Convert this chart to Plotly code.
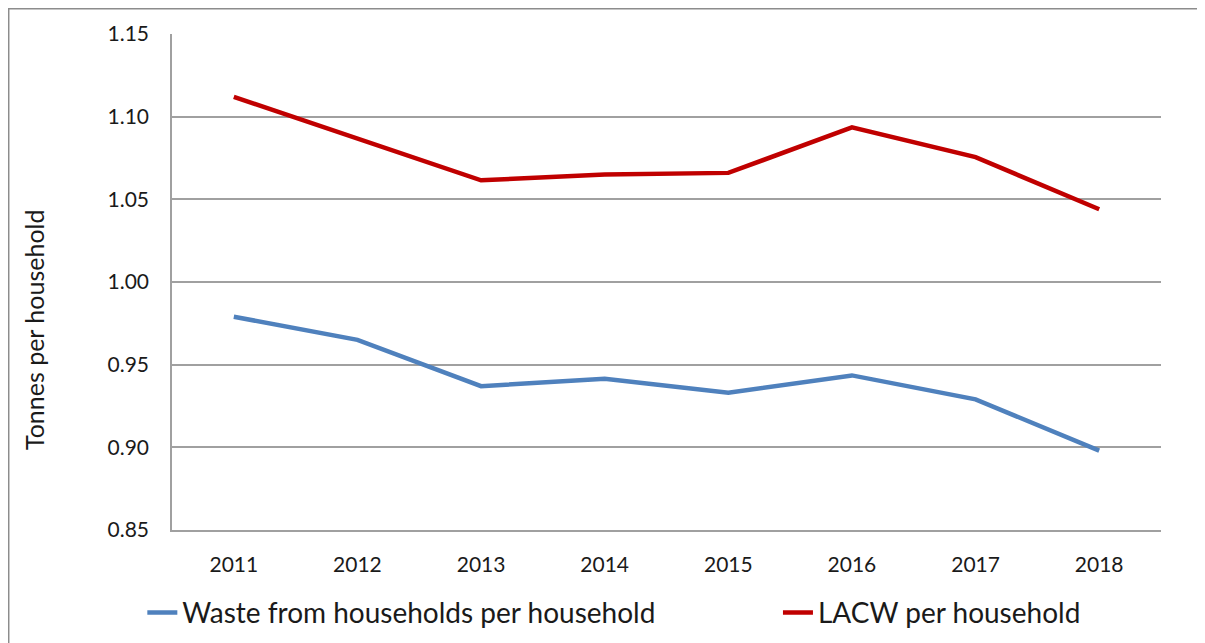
import plotly.graph_objects as go

years = ["2011", "2012", "2013", "2014", "2015", "2016", "2017", "2018"]
waste_households = [0.979, 0.965, 0.937, 0.9415, 0.933, 0.9435, 0.929, 0.898]
lacw = [1.112, 1.087, 1.0615, 1.065, 1.066, 1.0935, 1.0755, 1.044]
y_ticks = [0.85, 0.90, 0.95, 1.00, 1.05, 1.10, 1.15]

FONT = "Lato, 'Liberation Sans Narrow', 'DejaVu Sans Condensed', sans-serif"

fig = go.Figure()
fig.add_trace(go.Scatter(
    x=years, y=waste_households, mode="lines",
    name="Waste from households per household",
    line=dict(color="#4F81BD", width=4.5),
    legend="legend",
))
fig.add_trace(go.Scatter(
    x=years, y=lacw, mode="lines",
    name="LACW per household",
    line=dict(color="#C00000", width=4.5),
    legend="legend2",
))

legend_common = dict(
    orientation="h", xanchor="left", y=-0.167, yanchor="middle",
    font=dict(size=28, family=FONT, color="#1a1a1a"),
    itemwidth=30, bgcolor="rgba(0,0,0,0)",
)

fig.update_layout(
    width=1197, height=635,
    margin=dict(l=164, r=44, t=26, b=113, autoexpand=False),
    paper_bgcolor="white", plot_bgcolor="white",
    font=dict(family=FONT, color="#1a1a1a"),
    showlegend=True,
    legend=dict(x=-0.03, **legend_common),
    legend2=dict(x=0.6127, **legend_common),
    xaxis=dict(
        type="category", range=[-0.5, 7.5],
        showgrid=False, showline=True, linecolor="#a0a0a0", linewidth=1.5,
        ticks="", tickfont=dict(size=21, family=FONT, color="#1a1a1a"),
        ticklabelstandoff=15, fixedrange=True, automargin=False,
    ),
    yaxis=dict(
        range=[0.85, 1.15], tickvals=y_ticks, tickformat=".2f",
        showgrid=True, gridcolor="#a0a0a0", gridwidth=1.5,
        showline=True, linecolor="#a0a0a0", linewidth=1.5,
        zeroline=False, ticks="", ticklabelstandoff=17,
        tickfont=dict(size=21, family=FONT, color="#1a1a1a"),
        fixedrange=True, automargin=False,
    ),
    annotations=[dict(
        text="Tonnes per household", textangle=-90,
        xref="paper", yref="paper", x=-0.1396, y=0.405,
        xanchor="center", yanchor="middle", showarrow=False,
        font=dict(size=25, family=FONT, color="#1a1a1a"),
    )],
    shapes=[dict(
        type="rect", xref="paper", yref="paper",
        x0=-0.1651, x1=1.2, y0=-0.4, y1=1.0509,
        line=dict(color="#8c8c8c", width=1.5), fillcolor="rgba(0,0,0,0)",
        layer="below",
    )],
)

fig.write_html("out.html")
